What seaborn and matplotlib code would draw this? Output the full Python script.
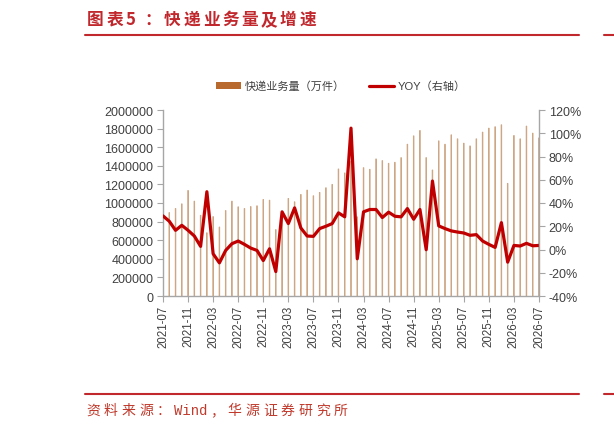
import numpy as np
import pandas as pd
import matplotlib
matplotlib.use("Agg")
import matplotlib.pyplot as plt
import seaborn as sns
from matplotlib.lines import Line2D
from matplotlib.patches import Patch
from matplotlib.ticker import FuncFormatter

# 数据
months = pd.date_range("2021-07", "2026-07", freq="MS").strftime("%Y-%m").tolist()

# 快递业务量（万件）
volume = [
    900000, 897000, 941000, 991000, 1135000, 1020000,
    868000, 680000, 854000, 742000, 919000, 1020000, 959000, 941000, 962000, 970000, 1038000, 1030000,
    714000, 900000, 1049000, 1013000, 1092000, 1139000, 1078000, 1114000, 1164000, 1200000, 1366000, 1323000,
    1450000, 851000, 1380000, 1362000, 1474000, 1456000, 1427000, 1438000, 1488000, 1632000, 1722000, 1780000,
    1488000, 1355000, 1668000, 1632000, 1733000, 1690000, 1643000, 1614000, 1690000, 1762000, 1805000, 1820000,
    1841000, 1211000, 1726000, 1690000, 1827000, 1751000, 1700000,
]

# YOY（%，右轴）
yoy = [
    28.9, 24.3, 16.5, 20.8, 16.5, 11.6,
    2.7, 49.7, -3.7, -11.5, -0.8, 5.0, 7.3, 4.4, 1.2, -0.8, -9.5, 0.6,
    -19.0, 32.4, 22.3, 35.8, 18.5, 11.6, 11.3, 18.0, 20.0, 22.3, 31.5, 28.1,
    104.4, -8.0, 32.4, 34.4, 34.4, 27.5, 32.1, 28.6, 28.1, 35.2, 26.0, 34.4,
    -0.2, 58.9, 20.3, 18.0, 16.0, 15.0, 14.2, 12.2, 12.8, 7.3, 4.4, 1.8,
    23.1, -10.9, 3.5, 3.0, 5.3, 3.2, 3.5,
]

left_ticks = list(range(0, 2000001, 200000))
right_ticks = [-0.4, -0.2, 0.0, 0.2, 0.4, 0.6, 0.8, 1.0, 1.2]

title = "图表5：快递业务量及增速"
source_parts = ["资", "料", "来", "源", "：", "Wind", "，", "华", "源", "证", "券", "研", "究", "所"]
legend_labels = ["快递业务量（万件）", "YOY（右轴）"]

RED = "#C00000"
TITLE_RED = "#C0282D"
BAR = "#B8692E"
BAR_THIN = "#CDA683"
GRAY = "#A6A6A6"
TXT = "#404040"

sns.set_style("white")
plt.rcParams['font.family'] = ['Liberation Sans', 'Noto Sans CJK SC']
plt.rcParams['axes.unicode_minus'] = False

df = pd.DataFrame({'month': months, 'volume': volume, 'yoy': np.array(yoy) / 100})

W, H = 614, 431
fig = plt.figure(figsize=(W / 100, H / 100), dpi=100)
ax = fig.add_axes([163 / W, 1 - 297 / H, 376 / W, 186 / H])

# 柱状图：业务量（很细的柱子）
sns.barplot(data=df, x='month', y='volume', color=BAR_THIN, width=0.1,
            saturation=1, edgecolor=BAR_THIN, linewidth=0.6, ax=ax)
for p in ax.patches:
    p.set_snap(False)
ax.set_xlim(0, len(months) - 1)
ax.set_ylim(0, 2000000)
ax.set_yticks(left_ticks)
ax.yaxis.set_major_formatter(FuncFormatter(lambda v, p: f"{int(v)}"))
ax.set_xticks(range(0, len(months), 4))
ax.set_xticklabels(months[::4], rotation=90)
ax.set_xlabel("")
ax.set_ylabel("")

# 折线：YOY
ax2 = ax.twinx()
sns.lineplot(x=np.arange(len(months)), y=df['yoy'], ax=ax2, color=RED, lw=2.3)
ax2.set_xlim(0, len(months) - 1)
ax2.set_ylim(-0.4, 1.2)
ax2.set_yticks(right_ticks)
ax2.yaxis.set_major_formatter(FuncFormatter(lambda v, p: f"{v * 100:.0f}%"))
ax2.set_ylabel("")

for a in (ax, ax2):
    a.spines['top'].set_visible(False)
    for s in a.spines.values():
        s.set_color(GRAY)
        s.set_linewidth(1.0)
ax.spines['right'].set_visible(False)
ax2.spines['left'].set_visible(False)
ax2.spines['bottom'].set_visible(False)

ax.tick_params(axis='y', left=True, length=4, color=GRAY, labelsize=9, labelcolor=TXT, pad=3)
ax.tick_params(axis='x', bottom=True, length=4, color=GRAY, labelsize=8.3, labelcolor=TXT, pad=2)
ax2.tick_params(axis='y', right=True, length=4, color=GRAY, labelsize=9, labelcolor=TXT, pad=3)

# 图例
handles = [Patch(color=BAR, linewidth=0), Line2D([0], [0], color=RED, lw=2.3)]
fig.legend(handles, legend_labels, loc='center', bbox_to_anchor=(341 / W, 1 - 87 / H),
           ncol=2, frameon=False, fontsize=8, labelcolor=TXT, handlelength=2.2,
           handleheight=0.6, handletextpad=0.35, columnspacing=2.2)

# 标题（逐字排）
for i, ch in enumerate(title):
    fig.text((87 + i * 19.3) / W, 1 - 20 / H, ch, fontsize=12, fontweight='bold',
             color=TITLE_RED, family=['Noto Sans CJK SC'], ha='left', va='center')

# 标题下划线和底部线
for yy in (36, 395):
    fig.add_artist(Line2D([85 / W, 579 / W], [1 - yy / H, 1 - yy / H], color=TITLE_RED, lw=1.5))
    fig.add_artist(Line2D([604 / W, 1.0], [1 - yy / H, 1 - yy / H], color=TITLE_RED, lw=1.5))

# 资料来源
x = 86
for part in source_parts:
    fig.text(x / W, 1 - 411 / H, part, fontsize=10, color="#C0392B",
             family=['Liberation Mono', 'Noto Sans CJK SC'], ha='left', va='center')
    x += 35.4 if part.isascii() else 17.7

fig.savefig("out.png", dpi=100)
